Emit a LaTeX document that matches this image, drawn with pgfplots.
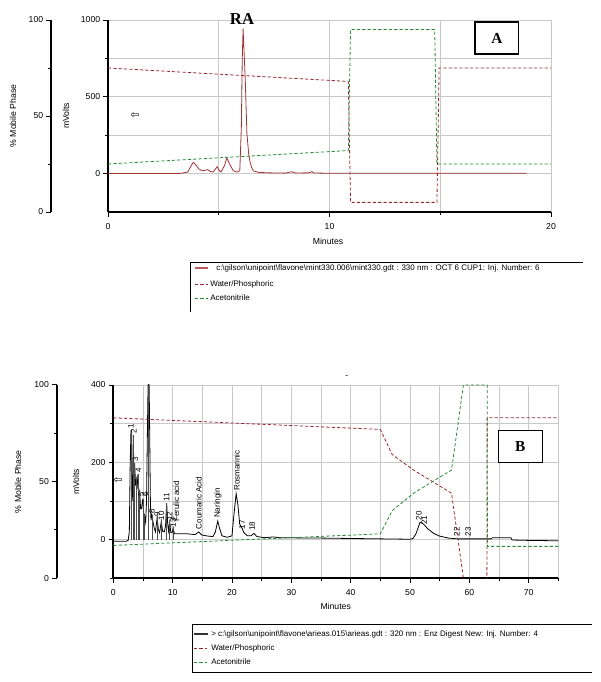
\documentclass[border=0pt]{standalone}
\usepackage{fontspec}
\setmainfont{Liberation Sans}
\newfontfamily\serifb{Liberation Serif}
\newfontfamily\dejavu{DejaVu Sans}
\usepackage{pgfplots}
\pgfplotsset{compat=1.18}
\definecolor{wat}{RGB}{150,40,45}
\definecolor{acn}{RGB}{40,140,50}
\definecolor{chromA}{RGB}{165,50,50}
\definecolor{gridc}{RGB}{200,200,200}
\newcommand{\bs}{\textbackslash}
\tikzset{
  wline/.style={draw=wat, line width=0.6pt, dash pattern=on 2.4pt off 1.6pt},
  aline/.style={draw=acn, line width=0.6pt, dash pattern=on 2.4pt off 1.6pt},
}
\pgfplotsset{
  base/.style={scale only axis, anchor=south west,
    tick label style={font=\fontsize{6.5}{7}\selectfont},
    /pgf/number format/assume math mode=true,
    /pgf/number format/set thousands separator={},
    xticklabel style={yshift=-2.5pt},
    major tick length=3.5pt, minor tick length=2.3pt,
    axis line style={line width=1.3pt,-},
    tick style={black,line width=0.7pt},
  },
  mv/.style={base, axis x line*=bottom, axis y line*=left, tick align=outside,
    grid=both, major grid style={gridc,line width=0.5pt}, minor grid style={gridc,line width=0.5pt}},
  pct/.style={base, axis x line=none, axis y line*=left, tick align=outside,
    xmin=0,xmax=1,ymin=0,ymax=100, ytick={0,50,100}, minor ytick={25,75}},
}
\begin{document}
\begin{tikzpicture}[x=0.75pt,y=0.75pt]
\useasboundingbox (0,0) rectangle (600,682);
\fontsize{6.5}{7.5}\selectfont
% ================= PANEL A =================
\begin{axis}[mv, at={(81pt,352.5pt)}, width=332.25pt, height=144pt,
  xmin=0,xmax=20,ymin=-250,ymax=1000,
  xtick={0,10,20}, minor xtick={5,15}, ytick={0,500,1000}, minor ytick={250,750}]
\addplot[chromA, line width=0.6pt] coordinates {
(0,0)(3.0,0)(3.3,2)(3.6,10)(3.75,50)(3.85,73)(3.95,60)(4.1,30)(4.25,18)(4.4,22)(4.5,26)
(4.6,15)(4.75,10)(4.85,30)(4.93,45)(5.0,25)(5.1,10)(5.25,50)(5.37,101)(5.5,60)(5.65,20)
(5.8,10)(5.95,18)(6.02,300)(6.06,739)(6.1,944)(6.14,800)(6.2,600)(6.27,265)(6.35,130)
(6.42,71)(6.5,35)(6.57,17)(6.8,8)(7.2,5)(8.0,3)(8.3,12)(8.45,4)(9.1,5)(9.2,13)(9.3,4)
(10,2)(12,2)(18.9,2)};
\end{axis}
\begin{axis}[base, hide axis, at={(81pt,352.5pt)}, width=332.25pt, height=144pt,
  xmin=0,xmax=20,ymin=0,ymax=100]
\addplot[wline] coordinates {(0,75)(10.85,68)(10.95,5)(14.85,5)(14.95,75)(20,75)};
\addplot[aline] coordinates {(0,25)(10.85,32)(10.95,95)(14.75,95)(14.85,25)(20,25)};
\end{axis}
\begin{axis}[pct, at={(38.25pt,352.5pt)}, width=0.5pt, height=144pt]
\addplot[draw=none] coordinates {(0,0)};
\end{axis}
\node[rotate=90] at (13,566) {\% Mobile Phase};
\node[rotate=90] at (66,566) {mVolts};
\node at (328,441) {Minutes};
\node at (135,566) {\dejavu\fontsize{8}{8}\selectfont ⇦};
\node[font=\serifb\bfseries\fontsize{12.5}{13}\selectfont] at (242,663) {RA};
\draw[line width=1pt, fill=white] (475,660) rectangle (518.7,628);
\node[font=\serifb\bfseries\fontsize{11.5}{12}\selectfont] at (496.85,644) {A};
% legend A
\draw[line width=0.6pt] (190,370) -- (190,420) -- (583,420);
\draw[chromA!80, line width=0.8pt] (195,414) -- (208,414);
\node[anchor=west, inner sep=0pt, font=\fontsize{6}{7}\selectfont] at (216,414) {c:\bs gilson\bs unipoint\bs flavone\bs mint330.006\bs mint330.gdt : 330 nm : OCT 6 CUP1: Inj. Number: 6};
\draw[wline] (195,398) -- (208,398);
\node[anchor=west, inner sep=0pt, font=\fontsize{6}{7}\selectfont] at (210,398) {Water/Phosphoric};
\draw[aline] (195,384) -- (208,384);
\node[anchor=west, inner sep=0pt, font=\fontsize{6}{7}\selectfont] at (210,384) {Acetonitrile};
% ================= PANEL B =================
\begin{axis}[mv, at={(84.975pt,77.775pt)}, width=333.8pt, height=145pt,
  xmin=0,xmax=75,ymin=-100,ymax=400,
  xtick={0,10,...,70}, minor xtick={5,15,...,75}, ytick={0,200,400}, minor ytick={-100,100,300}]
\addplot[black, line width=0.6pt] coordinates {
(0,-4)(2.2,-4)(2.5,-2)(2.7,20)(2.85,200)(2.98,283)(3.1,150)(3.2,100)(3.3,200)(3.37,270)
(3.47,180)(3.6,198)(3.75,140)(3.88,155)(4.0,130)(4.16,170)(4.3,120)(4.44,125)(4.6,80)
(4.75,80)(4.98,106)(5.1,70)(5.26,63)(5.45,45)(5.6,100)(5.75,280)(5.85,390)(5.95,430)
(6.05,390)(6.15,250)(6.25,100)(6.35,50)(6.5,65)(6.7,45)(6.9,30)(7.1,20)(7.4,58)(7.6,25)
(7.8,18)(8.1,48)(8.3,22)(8.6,20)(8.8,35)(9.0,94)(9.15,45)(9.3,22)(9.5,45)(9.7,18)(9.9,18)
(10.1,30)(10.3,15)(11,15)(12.5,15)(13.8,13)(14.4,20)(14.9,12)(16,9)(16.8,8)(17.2,20)
(17.6,48)(17.9,30)(18.3,10)(19.2,6)(20.0,10)(20.3,60)(20.7,119)(21.0,90)(21.3,40)(21.7,30)
(22.0,18)(22.6,10)(23.2,10)(23.7,16)(24.2,8)(25.5,5)(27,7)(28,5)(35,4)(45,2)(50,1)(50.5,3)
(51,15)(51.7,45)(52.3,40)(53,28)(54,16)(55,9)(56.5,4)(58,2)(63.7,2)(63.9,5)(67,5)(67.2,-1)
(70,-2)(75,-3)};
\addplot[ycomb, black!70, line width=0.4pt] coordinates {
(2.98,283)(3.37,270)(3.6,198)(3.88,155)(4.16,170)(4.44,125)(4.98,106)(5.26,63)(5.95,400)
(6.5,65)(7.4,58)(8.1,48)(9.0,94)(9.5,45)(10.1,30)};
\begin{scope}[every node/.style={rotate=90, anchor=west, inner sep=0.5pt, font=\fontsize{6}{6.5}\selectfont}]
\node at (axis cs:2.95,285) {1};
\node at (axis cs:3.45,273) {2};
\node at (axis cs:3.7,200) {3};
\node at (axis cs:4.25,172) {4};
\node at (axis cs:4.7,110) {5};
\node at (axis cs:5.4,110) {6};
\node at (axis cs:6.5,66) {8};
\node at (axis cs:7.4,58) {9};
\node at (axis cs:8.1,48) {10};
\node at (axis cs:9.0,96) {11};
\node at (axis cs:9.5,46) {12};
\node at (axis cs:10.1,30) {13};
\node at (axis cs:10.6,44) {Ferulic acid};
\node at (axis cs:14.4,25) {Coumaric Acid};
\node at (axis cs:17.6,54) {Naringin};
\node at (axis cs:20.8,125) {Rosmarinic};
\node at (axis cs:21.7,25) {17};
\node at (axis cs:23.4,20) {18};
\node at (axis cs:51.5,48) {20};
\node at (axis cs:52.4,36) {21};
\node at (axis cs:57.9,6) {22};
\node at (axis cs:59.8,6) {23};
\end{scope}
\end{axis}
\begin{axis}[base, hide axis, at={(84.975pt,77.775pt)}, width=333.8pt, height=145pt,
  xmin=0,xmax=75,ymin=0,ymax=100]
\addplot[wline] coordinates {(0,83)(45,77)(47,64)(50.6,56)(57,44)(59,0)(59.4,-8)(62.95,-8)(63,83)(75,83)};
\addplot[aline] coordinates {(0,17)(45,23)(47,35)(50.6,44)(57,56)(59,100)(63,100)(63.05,16.5)(75,16.5)};
\end{axis}
\begin{axis}[pct, at={(42.525pt,77.775pt)}, width=0.5pt, height=145pt]
\addplot[draw=none] coordinates {(0,0)};
\end{axis}
\node[rotate=90] at (18,200.3) {\% Mobile Phase};
\node[rotate=90] at (76,200.3) {mVolts};
\node at (335.7,76) {Minutes};
\node at (118,201) {\dejavu\fontsize{8}{8}\selectfont ⇦};
\node at (346.7,305.3) {-};
\draw[line width=1pt, fill=white] (498.3,251.3) rectangle (542.3,219.7);
\node[font=\serifb\bfseries\fontsize{11.5}{12}\selectfont] at (520.3,235.5) {B};
% legend B
\draw[line width=0.6pt] (592,58) -- (192,58) -- (192,10) -- (592,10);
\draw[black!80, line width=0.8pt] (194,48) -- (208,48);
\node[anchor=west, inner sep=0pt, font=\fontsize{6}{7}\selectfont] at (211,48) {> c:\bs gilson\bs unipoint\bs flavone\bs arieas.015\bs arieas.gdt : 320 nm : Enz Digest New: Inj. Number: 4};
\draw[wline] (194,34) -- (207,34);
\node[anchor=west, inner sep=0pt, font=\fontsize{6}{7}\selectfont] at (211,34) {Water/Phosphoric};
\draw[aline] (194,20) -- (207,20);
\node[anchor=west, inner sep=0pt, font=\fontsize{6}{7}\selectfont] at (211,20) {Acetonitrile};
\end{tikzpicture}
\end{document}
